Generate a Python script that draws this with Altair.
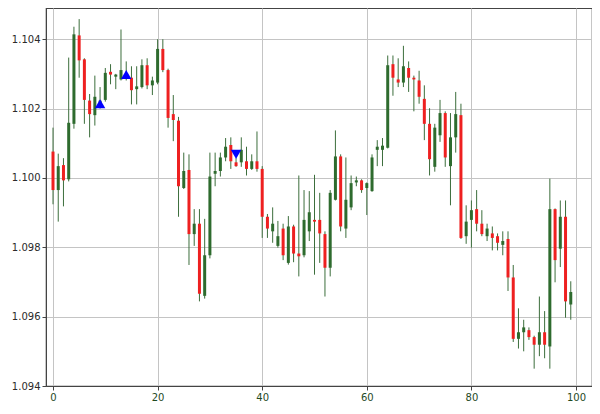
import altair as alt
import pandas as pd

opens = [1.10076, 1.09965, 1.10037, 1.09996, 1.10156, 1.10411, 1.10342, 1.10223, 1.10181, 1.10206,
         1.10225, 1.10306, 1.10292, 1.10284, 1.10289, 1.10289, 1.10256, 1.10262, 1.10325, 1.10267,
         1.10275, 1.10372, 1.10311, 1.10184, 1.10165, 1.09971, 1.10023, 1.09838, 1.09868, 1.09660,
         1.09777, 1.10012, 1.10020, 1.10059, 1.10095, 1.10045, 1.10045, 1.10048, 1.10026, 1.10048,
         1.10026, 1.09888, 1.09846, 1.09804, 1.09854, 1.09755, 1.09860, 1.09782, 1.09777, 1.09846,
         1.09879, 1.09879, 1.09838, 1.09741, 1.09937, 1.10062, 1.09854, 1.09915, 1.09987, 1.09993,
         1.09971, 1.09962, 1.10081, 1.10081, 1.10087, 1.10328, 1.10284, 1.10275, 1.10317, 1.10289,
         1.10281, 1.10228, 1.10156, 1.10032, 1.10123, 1.10187, 1.10034, 1.10117, 1.10181, 1.09832,
         1.09879, 1.09910, 1.09868, 1.09832, 1.09840, 1.09832, 1.09807, 1.09824, 1.09713, 1.09536,
         1.09555, 1.09561, 1.09541, 1.09519, 1.09555, 1.09514, 1.09910, 1.09796, 1.09888, 1.09635]
highs = [1.10145, 1.10070, 1.10057, 1.10347, 1.10436, 1.10458, 1.10345, 1.10242, 1.10295, 1.10262,
         1.10317, 1.10328, 1.10300, 1.10428, 1.10336, 1.10322, 1.10322, 1.10342, 1.10345, 1.10292,
         1.10400, 1.10400, 1.10315, 1.10239, 1.10176, 1.10073, 1.10068, 1.09910, 1.09910, 1.09882,
         1.10073, 1.10073, 1.10073, 1.10115, 1.10117, 1.10057, 1.10117, 1.10090, 1.10068, 1.10134,
         1.10034, 1.09896, 1.09915, 1.09876, 1.09868, 1.09890, 1.09865, 1.10007, 1.09965, 1.09962,
         1.10009, 1.09957, 1.09846, 1.09965, 1.10137, 1.10068, 1.10059, 1.10007, 1.10004, 1.09996,
         1.09987, 1.10068, 1.10109, 1.10115, 1.10353, 1.10353, 1.10345, 1.10381, 1.10336, 1.10295,
         1.10309, 1.10267, 1.10201, 1.10156, 1.10225, 1.10192, 1.10187, 1.10248, 1.10214, 1.09921,
         1.09935, 1.09965, 1.09907, 1.09868, 1.09860, 1.09840, 1.09846, 1.09846, 1.09749, 1.09624,
         1.09591, 1.09569, 1.09545, 1.09658, 1.09616, 1.09998, 1.09912, 1.09935, 1.09935, 1.09702]
lows = [1.09924, 1.09874, 1.09918, 1.09990, 1.10142, 1.10289, 1.10156, 1.10117, 1.10151, 1.10200,
        1.10220, 1.10270, 1.10256, 1.10281, 1.10281, 1.10212, 1.10212, 1.10258, 1.10256, 1.10239,
        1.10270, 1.10305, 1.10145, 1.10106, 1.09888, 1.09968, 1.09749, 1.09804, 1.09644, 1.09652,
        1.09768, 1.09976, 1.10004, 1.10048, 1.10026, 1.10032, 1.10032, 1.10007, 1.10023, 1.10018,
        1.09827, 1.09827, 1.09813, 1.09799, 1.09763, 1.09750, 1.09757, 1.09716, 1.09771, 1.09818,
        1.09721, 1.09755, 1.09658, 1.09716, 1.09935, 1.09846, 1.09827, 1.09907, 1.09976, 1.09957,
        1.09893, 1.09960, 1.10034, 1.10034, 1.10085, 1.10237, 1.10262, 1.10262, 1.10248, 1.10192,
        1.10214, 1.10109, 1.10007, 1.10018, 1.10104, 1.10032, 1.09921, 1.10073, 1.09824, 1.09810,
        1.09799, 1.09846, 1.09832, 1.09818, 1.09791, 1.09791, 1.09777, 1.09674, 1.09527, 1.09508,
        1.09500, 1.09533, 1.09450, 1.09486, 1.09480, 1.09450, 1.09699, 1.09743, 1.09597, 1.09591]
closes = [1.09965, 1.10034, 1.09993, 1.10159, 1.10414, 1.10339, 1.10225, 1.10184, 1.10234, 1.10223,
          1.10303, 1.10298, 1.10298, 1.10311, 1.10300, 1.10253, 1.10264, 1.10325, 1.10267, 1.10281,
          1.10372, 1.10311, 1.10173, 1.10167, 1.09976, 1.10020, 1.09838, 1.09868, 1.09666, 1.09777,
          1.10004, 1.10020, 1.10059, 1.10090, 1.10048, 1.10034, 1.10081, 1.10026, 1.10048, 1.10026,
          1.09888, 1.09854, 1.09868, 1.09832, 1.09777, 1.09860, 1.09782, 1.09774, 1.09879, 1.09901,
          1.09874, 1.09840, 1.09741, 1.09957, 1.10062, 1.09860, 1.09937, 1.09985, 1.09993, 1.09965,
          1.09985, 1.10059, 1.10090, 1.10093, 1.10325, 1.10289, 1.10275, 1.10322, 1.10289, 1.10284,
          1.10234, 1.10156, 1.10054, 1.10145, 1.10187, 1.10059, 1.10117, 1.10184, 1.09827, 1.09874,
          1.09907, 1.09868, 1.09838, 1.09854, 1.09827, 1.09813, 1.09818, 1.09713, 1.09536, 1.09555,
          1.09569, 1.09541, 1.09519, 1.09555, 1.09519, 1.09910, 1.09763, 1.09888, 1.09644, 1.09671]

buy_idx = [9, 14]
buy_val = [1.10214, 1.10298]
sell_idx = [35]
sell_val = [1.10068]

x_ticks = [0, 20, 40, 60, 80, 100]
y_ticks = [1.094, 1.096, 1.098, 1.100, 1.102, 1.104]

n = len(opens)
df = pd.DataFrame({
    "i": list(range(n)),
    "open": opens, "high": highs, "low": lows, "close": closes,
})
df["body_lo"] = df[["open", "close"]].min(axis=1)
df["body_hi"] = df[["open", "close"]].max(axis=1)
df["dir"] = ["up" if c >= o else "down" for o, c in zip(opens, closes)]

buy_df = pd.DataFrame({"i": buy_idx, "v": buy_val})
sell_df = pd.DataFrame({"i": sell_idx, "v": sell_val})

xscale = alt.Scale(domain=[-1.34, 103.06], nice=False, zero=False, padding=0)
yscale = alt.Scale(domain=[1.094, 1.1049], nice=False, zero=False, padding=0)

xaxis = alt.Axis(values=x_ticks, format="d", grid=True, title=None, labelFlush=False,
                 labelColor="#1f4a1f")
yaxis = alt.Axis(values=y_ticks, format=".3f", grid=True, title=None, labelColor="#2a2a2a")

base = alt.Chart(df)

wicks = base.mark_rule(strokeWidth=1, color="#3c6e3c").encode(
    x=alt.X("i:Q", scale=xscale, axis=xaxis),
    y=alt.Y("low:Q", scale=yscale, axis=yaxis),
    y2="high:Q",
)

bodies = base.mark_bar(size=3).encode(
    x=alt.X("i:Q", scale=xscale),
    y=alt.Y("body_lo:Q", scale=yscale),
    y2="body_hi:Q",
    color=alt.Color("dir:N", scale=alt.Scale(domain=["up", "down"], range=["#2e6b2e", "#ee2020"]), legend=None),
)

buys = alt.Chart(buy_df).mark_point(shape="triangle-up", filled=True, size=110, color="#0000ff", opacity=1).encode(
    x=alt.X("i:Q", scale=xscale),
    y=alt.Y("v:Q", scale=yscale),
)
sells = alt.Chart(sell_df).mark_point(shape="triangle-down", filled=True, size=110, color="#0000ff", opacity=1).encode(
    x=alt.X("i:Q", scale=xscale),
    y=alt.Y("v:Q", scale=yscale),
)

chart = alt.layer(wicks, bodies, buys, sells).properties(
    width=546, height=378,
    autosize=alt.AutoSizeParams(type="none"),
    padding={"left": 38, "top": 0, "right": 0, "bottom": 16},
).configure_view(
    stroke="#444444", strokeWidth=1.2
).configure_axis(
    gridColor="#c4c4c4", gridWidth=1,
    domainColor="#444444", tickColor="#444444", tickSize=4,
    labelFontSize=10, labelFont="DejaVu Sans",
    labelPadding=2,
)

chart.save("out.html", embed_options={"renderer": "svg", "actions": False})
